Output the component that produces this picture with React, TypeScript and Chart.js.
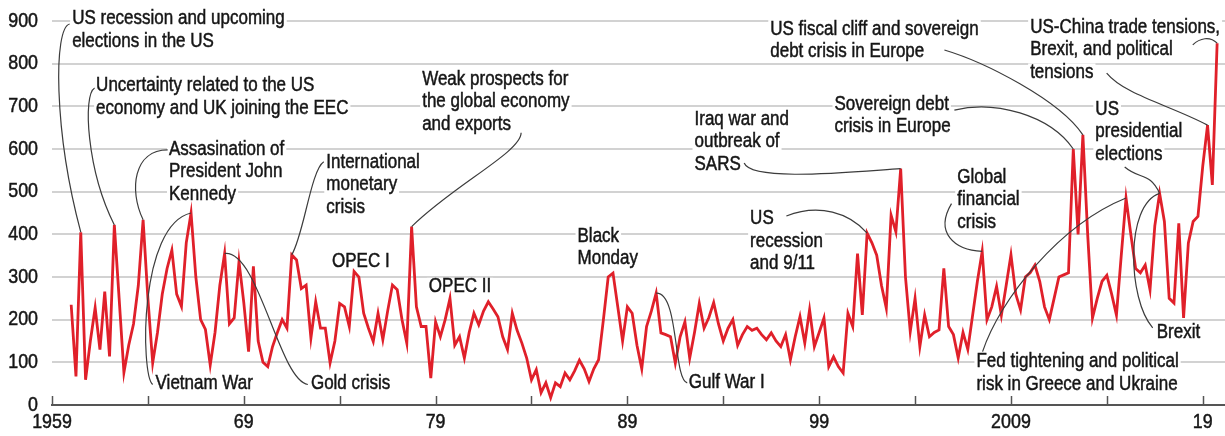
import React, { useEffect, useRef } from "react";
import { Chart, registerables } from "chart.js";

Chart.register(...registerables);

const FONT = '"Liberation Sans", Arial, "DejaVu Sans", sans-serif';
const SX = 0.85; // horizontal condensing of the text

// Quarterly index values, 1960Q1 .. 2019Q4
const values1960s: number[] = [235, 67, 405, 59, 150, 228, 130, 266, 114, 422, 250, 76, 140, 190, 280, 434, 250, 99, 170, 260, 320, 363, 260, 231, 380, 450, 300, 200, 177, 94, 170, 280, 355, 190, 204, 336, 240, 125, 325, 150];
const values1970s: number[] = [100, 90, 137, 170, 200, 180, 352, 340, 273, 281, 157, 242, 180, 180, 99, 150, 238, 230, 184, 313, 300, 215, 180, 149, 215, 153, 220, 281, 270, 200, 145, 418, 230, 184, 184, 63, 195, 160, 200, 250];
const values1980s: number[] = [140, 160, 110, 170, 215, 188, 220, 242, 225, 207, 160, 130, 215, 175, 145, 110, 59, 83, 29, 52, 17, 52, 43, 75, 59, 80, 105, 85, 55, 85, 106, 200, 300, 309, 230, 150, 230, 215, 140, 85];
const values1990s: number[] = [184, 220, 262, 169, 165, 160, 98, 160, 195, 110, 170, 238, 180, 205, 240, 190, 150, 180, 200, 140, 165, 184, 175, 180, 165, 153, 169, 150, 137, 165, 106, 160, 207, 145, 223, 137, 170, 204, 90, 113];
const values2000s: number[] = [90, 75, 215, 184, 355, 211, 403, 380, 351, 280, 227, 445, 406, 554, 300, 172, 250, 137, 211, 160, 170, 176, 320, 184, 165, 110, 170, 130, 210, 290, 360, 200, 230, 278, 210, 280, 352, 260, 223, 300];
const values2010s: number[] = [310, 328, 290, 230, 200, 250, 300, 305, 310, 600, 400, 633, 400, 204, 250, 290, 304, 260, 211, 350, 485, 400, 320, 310, 328, 270, 420, 496, 430, 250, 239, 426, 204, 380, 430, 442, 560, 656, 516, 848];

const values: number[] = [...values1960s, ...values1970s, ...values1980s, ...values1990s, ...values2000s, ...values2010s];
const FIRST_YEAR = 1960;
const quarters: number[] = values.map((_, i) => FIRST_YEAR + i * 0.25);

const tickYears: number[] = [1959, 1964, 1969, 1974, 1979, 1984, 1989, 1994, 1999, 2004, 2009, 2014, 2019];
const tickLabels: string[] = ["1959", "", "69", "", "79", "", "89", "", "99", "", "2009", "", "19"];
const yTickValues: number[] = [0, 100, 200, 300, 400, 500, 600, 700, 800, 900];

// Annotations (anchor = left / first-line centre, in data units)
const annotationLines: string[][] = [
  ["US recession and upcoming", "elections in the US"],
  ["Uncertainty related to the US", "economy and UK joining the EEC"],
  ["Assasination of", "President John", "Kennedy"],
  ["Vietnam War"],
  ["Gold crisis"],
  ["International", "monetary", "crisis"],
  ["OPEC I"],
  ["Weak prospects for", "the global economy", "and exports"],
  ["OPEC II"],
  ["Black", "Monday"],
  ["Gulf War I"],
  ["Iraq war and", "outbreak of", "SARS"],
  ["US", "recession", "and 9/11"],
  ["US fiscal cliff and sovereign", "debt crisis in Europe"],
  ["Sovereign debt", "crisis in Europe"],
  ["Global", "financial", "crisis"],
  ["Fed tightening and political", "risk in Greece and Ukraine"],
  ["Brexit"],
  ["US", "presidential", "elections"],
  ["US-China trade tensions,", "Brexit, and political", "tensions"],
];
const annotationYears: number[] = [1960.05, 1961.3, 1965.1, 1964.4, 1972.5, 1973.3, 1973.6, 1978.3, 1978.65, 1986.4, 1992.2, 1992.5, 1995.4, 1996.45, 1999.8, 2006.2, 2007.2, 2016.6, 2013.4, 2010.0];
const annotationValues: number[] = [905, 748, 600, 50, 50, 569, 336, 764, 277, 396, 52, 670, 436, 881, 705, 534, 101, 169, 693, 885];

// Leader curves (cubic), ending on a data point
const leaderStart: number[][] = [[1959.92, 893], [1961.22, 743], [1965.03, 598], [1964.25, 48], [1972.34, 48], [1973.17, 570], [1983.46, 638], [1992.12, 52], [1995.09, 567], [1997.29, 443], [2005.53, 832], [2006.05, 691], [2005.9, 472], [2007.52, 125], [2016.39, 181], [2014.93, 558], [2018.48, 844], [2013.99, 778]];
const leaderCp1: number[][] = [[1959.08, 884], [1960.6, 727], [1963.26, 598], [1963.62, 71], [1970.83, 59], [1972.5, 551], [1983.46, 593], [1991.39, 59], [1995.46, 523], [1999.01, 473], [2007.62, 804], [2008.14, 715], [2005.0, 404], [2008.41, 247], [2015.09, 247], [2015.72, 528], [2018.85, 860], [2014.93, 727]];
const leaderCp2: number[][] = [[1959.08, 645], [1960.81, 551], [1963.0, 504], [1963.52, 422], [1969.78, 364], [1972.13, 399], [1979.96, 516], [1991.7, 265], [2000.57, 546], [2000.57, 450], [2011.53, 715], [2011.01, 680], [2006.05, 363], [2011.53, 422], [2014.93, 469], [2016.24, 546], [2019.37, 865], [2017.28, 703]];
const leaderEndIndex: number[] = [2, 9, 15, 25, 32, 46, 71, 122, 173, 166, 211, 209, 190, 220, 227, 227, 239, 237];

const LINE_H = 22.5;
const TEXT_SIZE = 20;
const TICK_SIZE = 21;
const TEXT_COLOR = "#161616";

function drawText(ctx: CanvasRenderingContext2D, text: string, x: number, y: number, align: CanvasTextAlign) {
  ctx.save();
  ctx.translate(x, y);
  ctx.scale(SX, 1);
  ctx.textAlign = align;
  ctx.textBaseline = "middle";
  ctx.fillText(text, 0, 0);
  ctx.strokeText(text, 0, 0);
  ctx.restore();
}

const annotationPlugin = {
  id: "annotations",
  beforeDatasetsDraw(chart: any) {
    const { ctx, scales } = chart;
    const x = scales.x, y = scales.y;
    ctx.save();
    ctx.font = `${TEXT_SIZE}px ${FONT}`;
    ctx.fillStyle = "#ffffff";
    annotationLines.forEach((lines, k) => {
      const px = x.getPixelForValue(annotationYears[k]);
      const py = y.getPixelForValue(annotationValues[k]);
      lines.forEach((ln, j) => {
        const w = ctx.measureText(ln).width * SX;
        ctx.fillRect(px - 2, py + j * LINE_H - 9, w + 4, 18);
      });
    });
    ctx.restore();
  },
  afterDatasetsDraw(chart: any) {
    const { ctx, scales } = chart;
    const x = scales.x, y = scales.y;
    ctx.save();
    ctx.strokeStyle = "#3c3c3c";
    ctx.lineWidth = 1.2;
    leaderStart.forEach((s, k) => {
      const c1 = leaderCp1[k];
      const c2 = leaderCp2[k];
      const e = leaderEndIndex[k];
      ctx.beginPath();
      ctx.moveTo(x.getPixelForValue(s[0]), y.getPixelForValue(s[1]));
      ctx.bezierCurveTo(
        x.getPixelForValue(c1[0]), y.getPixelForValue(c1[1]),
        x.getPixelForValue(c2[0]), y.getPixelForValue(c2[1]),
        x.getPixelForValue(quarters[e]), y.getPixelForValue(values[e])
      );
      ctx.stroke();
    });
    ctx.font = `${TEXT_SIZE}px ${FONT}`;
    ctx.fillStyle = TEXT_COLOR;
    ctx.strokeStyle = TEXT_COLOR;
    ctx.lineWidth = 0.5;
    annotationLines.forEach((lines, k) => {
      const px = x.getPixelForValue(annotationYears[k]);
      const py = y.getPixelForValue(annotationValues[k]);
      lines.forEach((ln, j) => drawText(ctx, ln, px, py + j * LINE_H, "left"));
    });
    ctx.restore();
  },
  afterDraw(chart: any) {
    const { ctx, scales, chartArea } = chart;
    const x = scales.x, y = scales.y;
    ctx.save();
    // upward tick marks on the x axis
    ctx.strokeStyle = "#555";
    ctx.lineWidth = 1.5;
    tickYears.forEach((t) => {
      const px = Math.round(x.getPixelForValue(t)) + 0.5;
      ctx.beginPath();
      ctx.moveTo(px, chartArea.bottom);
      ctx.lineTo(px, chartArea.bottom - 9);
      ctx.stroke();
    });
    // tick labels
    ctx.font = `${TICK_SIZE}px ${FONT}`;
    ctx.fillStyle = TEXT_COLOR;
    ctx.strokeStyle = TEXT_COLOR;
    ctx.lineWidth = 0.5;
    yTickValues.forEach((v) => {
      drawText(ctx, String(v), chartArea.left - 14, y.getPixelForValue(v), "right");
    });
    tickYears.forEach((t, i) => {
      if (tickLabels[i]) drawText(ctx, tickLabels[i], x.getPixelForValue(t), chartArea.bottom + 17, "center");
    });
    ctx.restore();
  },
};

export default function App() {
  const canvasRef = useRef<HTMLCanvasElement | null>(null);

  useEffect(() => {
    document.body.style.margin = "0";
    const canvas = canvasRef.current;
    if (!canvas) return;
    const chart = new Chart(canvas, {
      type: "line",
      data: {
        datasets: [
          {
            data: quarters.map((t, i) => ({ x: t, y: values[i] })),
            borderColor: "#e0202a",
            borderWidth: 2.8,
            pointRadius: 0,
            tension: 0,
            fill: false,
          },
        ],
      },
      options: {
        animation: false,
        responsive: false,
        devicePixelRatio: 1,
        layout: { padding: { top: 21, right: 0, left: 0, bottom: 0 } },
        plugins: { legend: { display: false }, tooltip: { enabled: false } },
        scales: {
          x: {
            type: "linear",
            min: 1959,
            max: 2020.16,
            afterBuildTicks: (scale: any) => {
              scale.ticks = tickYears.map((v) => ({ value: v }));
            },
            afterFit: (scale: any) => {
              scale.height = 31;
            },
            ticks: { display: false },
            grid: { display: false },
            border: { display: true, color: "#555", width: 2 },
          },
          y: {
            min: 0,
            max: 900,
            afterBuildTicks: (scale: any) => {
              scale.ticks = yTickValues.map((v) => ({ value: v }));
            },
            afterFit: (scale: any) => {
              scale.width = 52;
            },
            ticks: { display: false },
            grid: { color: "#d2d2d2", lineWidth: 2, drawTicks: false },
            border: { display: false },
          },
        },
      },
      plugins: [annotationPlugin],
    } as any);
    return () => chart.destroy();
  }, []);

  return (
    <div style={{ width: 1225, height: 436, background: "#fff" }}>
      <canvas ref={canvasRef} width={1225} height={436} style={{ display: "block" }} />
    </div>
  );
}
